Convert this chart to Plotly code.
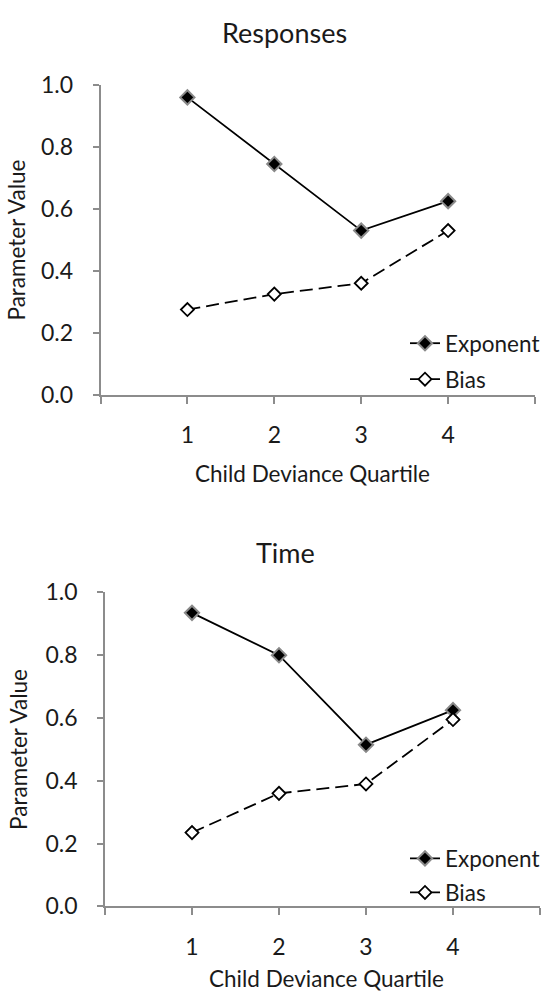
import plotly.graph_objects as go

quartiles = [1, 2, 3, 4]
tick_vals = [0, 1, 2, 3, 4, 5]
tick_text = ["", "1", "2", "3", "4", ""]

exponent_responses = [0.96, 0.745, 0.53, 0.625]
bias_responses = [0.275, 0.325, 0.36, 0.53]
exponent_time = [0.935, 0.80, 0.515, 0.625]
bias_time = [0.235, 0.36, 0.39, 0.595]

W, H = 545, 1003
FONT = "Lato"
TXT = "#1a1a1a"
AX = "#8c8c8c"

fig = go.Figure()

def add_pair(exp_vals, bias_vals, xa, ya, leg_e, leg_b):
    fig.add_trace(go.Scatter(
        x=quartiles, y=exp_vals, name="Exponent", mode="lines+markers",
        xaxis=xa, yaxis=ya, legend=leg_e,
        line=dict(color="black", width=1.8),
        marker=dict(symbol="diamond", size=11, color="black",
                    line=dict(color="#8a8a8a", width=2))))
    fig.add_trace(go.Scatter(
        x=quartiles, y=bias_vals, name="Bias", mode="lines+markers",
        xaxis=xa, yaxis=ya, legend=leg_b,
        line=dict(color="black", width=1.8, dash="13px,6px"),
        marker=dict(symbol="diamond", size=10, color="white",
                    line=dict(color="black", width=1.8))))

add_pair(exponent_responses, bias_responses, "x", "y", "legend", "legend2")
add_pair(exponent_time, bias_time, "x2", "y2", "legend3", "legend4")

def xaxis_def(x0, x1, anchor):
    return dict(domain=[x0 / W, x1 / W], range=[0, 5], tickvals=tick_vals,
                ticktext=tick_text, ticks="outside", ticklen=7, tickcolor=AX,
                tickwidth=1.5, showline=True, linecolor=AX, linewidth=1.5,
                showgrid=False, zeroline=False, anchor=anchor,
                ticklabelstandoff=12,
                tickfont=dict(family=FONT, size=23, color=TXT))

def yaxis_def(ybot, ytop, anchor):
    return dict(domain=[1 - ybot / H, 1 - ytop / H], range=[0, 1],
                tickvals=[0, 0.2, 0.4, 0.6, 0.8, 1.0], tickformat=".1f",
                ticks="outside", ticklen=6, tickcolor=AX, tickwidth=1.5,
                showline=True, linecolor=AX, linewidth=1.5, showgrid=False,
                zeroline=False, anchor=anchor, ticklabelstandoff=15,
                tickfont=dict(family=FONT, size=23, color=TXT))

def legend_def(ypx):
    return dict(x=405 / W, xanchor="left", y=1 - ypx / H, yanchor="middle",
                bgcolor="rgba(0,0,0,0)", borderwidth=0,
                font=dict(family=FONT, size=22.5, color=TXT))

annotations = []
def text(x, y, s, size=22.5, angle=0):
    annotations.append(dict(x=x / W, y=1 - y / H, xref="paper", yref="paper",
                            text=s, showarrow=False, textangle=angle,
                            font=dict(family=FONT, size=size, color=TXT),
                            xanchor="center", yanchor="middle"))

text(284, 18, "Responses", 27)
text(285, 553, "Time", 27)
text(17, 232, "Parameter Value", 22.5, -90)
text(19, 756, "Parameter Value", 22.5, -90)
text(312, 472, "Child Deviance Quartile", 22.5)
text(326, 991, "Child Deviance Quartile", 22.5)

fig.update_layout(
    width=W, height=H, autosize=False,
    margin=dict(l=0, r=0, t=0, b=0),
    paper_bgcolor="white", plot_bgcolor="white",
    xaxis=xaxis_def(100.5, 535, "y"),
    yaxis=yaxis_def(390.7, 72, "x"),
    xaxis2=xaxis_def(105, 540, "y2"),
    yaxis2=yaxis_def(917, 594, "x2"),
    legend=legend_def(338),
    legend2=legend_def(375),
    legend3=legend_def(868),
    legend4=legend_def(903),
    annotations=annotations,
    showlegend=True,
)

fig.write_html("out.html")
